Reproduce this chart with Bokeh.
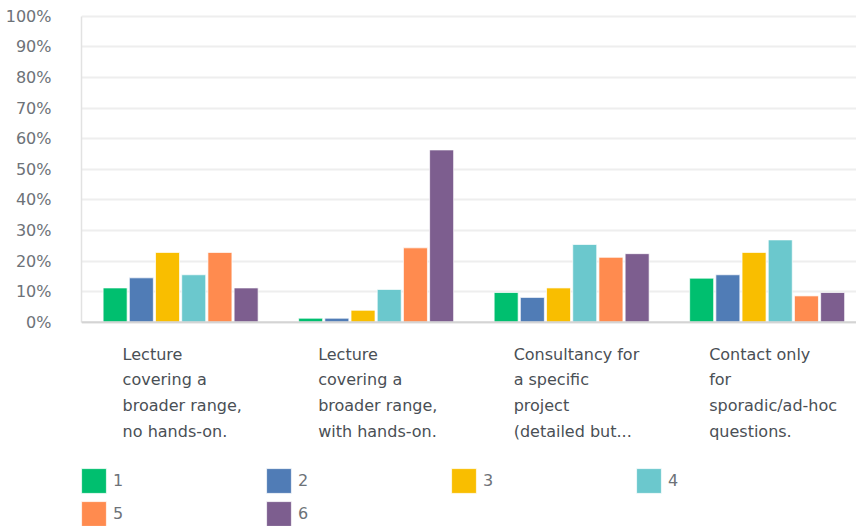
from bokeh.plotting import figure
from bokeh.models import Range1d, Label, Legend, LegendItem, Span, PrintfTickFormatter, FixedTicker
from bokeh.embed import file_html
from bokeh.resources import INLINE

categories = [
    "Lecture\ncovering a\nbroader range,\nno hands-on.",
    "Lecture\ncovering a\nbroader range,\nwith hands-on.",
    "Consultancy for\na specific\nproject\n(detailed but...",
    "Contact only\nfor\nsporadic/ad-hoc\nquestions.",
]
series = ["1", "2", "3", "4", "5", "6"]
colors = ["#00BF6F", "#507CB6", "#F9BE00", "#6BC8CD", "#FF8B4F", "#7D5E8F"]
s1 = [11.2, 1.3, 9.7, 14.4]
s2 = [14.5, 1.3, 8.1, 15.5]
s3 = [22.8, 3.9, 11.2, 22.8]
s4 = [15.5, 10.7, 25.4, 26.9]
s5 = [22.8, 24.3, 21.2, 8.6]
s6 = [11.2, 56.3, 22.4, 9.7]
values = [s1, s2, s3, s4, s5, s6]
y_ticks = list(range(0, 101, 10))

FONT = "DejaVu Sans"

# frame covers the whole canvas below/right of the y axis; values live in 0..100
p = figure(width=856, height=526, output_backend="svg", toolbar_location=None,
           x_range=Range1d(-0.007, 3.957), y_range=Range1d(-66.76, 105.13),
           min_border_left=81, min_border_right=0, min_border_top=0, min_border_bottom=0)
p.outline_line_color = None
p.xaxis.visible = False
p.xgrid.visible = False
p.yaxis.ticker = FixedTicker(ticks=y_ticks)
p.yaxis.bounds = (0, 100)
p.yaxis.formatter = PrintfTickFormatter(format="%d%%")
p.yaxis.axis_line_color = "#e2e2e2"
p.yaxis.axis_line_width = 1.5
p.yaxis.major_tick_line_color = None
p.yaxis.minor_tick_line_color = None
p.yaxis.major_label_standoff = 24
p.yaxis.major_label_text_font = FONT
p.yaxis.major_label_text_font_size = "16px"
p.yaxis.major_label_text_color = "#6d7278"
p.ygrid.grid_line_color = "#eeeeee"
p.ygrid.grid_line_width = 2

n = len(series)
step = 0.134
bw = 0.1228
items = []
for k, (name, col, vals) in enumerate(zip(series, colors, values)):
    xs = [i + 0.5 + (k - (n - 1) / 2) * step for i in range(len(categories))]
    r = p.vbar(x=xs, top=vals, width=bw, fill_color=col, line_color="white", line_width=1, line_alpha=0.7)
    items.append(LegendItem(label=name, renderers=[r]))

p.add_layout(Span(location=0, dimension="width", line_color="#d4d4d4", line_width=2))

for i, cat in enumerate(categories):
    p.add_layout(Label(x=i + 0.5, y=-7.3, x_offset=-58, text=cat, text_align="left", text_baseline="top",
                       text_font=FONT, text_font_size="16px", text_color="#4a4f55", text_line_height=1.36))

legend = Legend(items=items, location=(-3, -3), orientation="horizontal", ncols=4,
                glyph_width=31, glyph_height=31, spacing=2, padding=0, margin=0,
                label_standoff=4, label_width=148, border_line_color=None, background_fill_alpha=0,
                label_text_font=FONT, label_text_font_size="16px", label_text_color="#6d7278")
p.add_layout(legend, "center")

open("out.html", "w").write(file_html(p, INLINE))
